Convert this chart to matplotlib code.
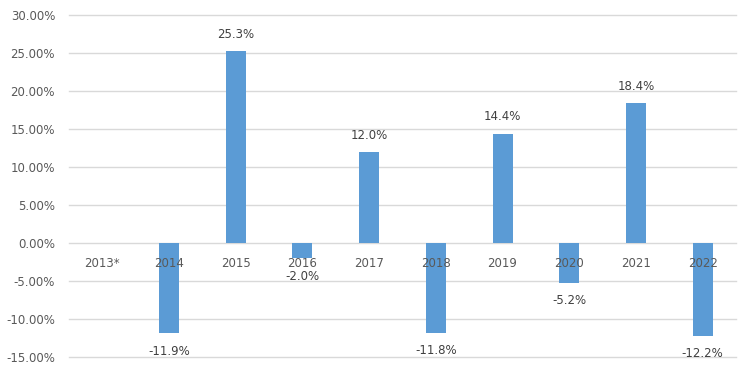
import numpy as np
import matplotlib
matplotlib.use("Agg")
import matplotlib.pyplot as plt
from matplotlib.ticker import FuncFormatter, MultipleLocator

# yearly returns, 2013* has no value
years = ["2013*", "2014", "2015", "2016", "2017", "2018", "2019", "2020", "2021", "2022"]
returns = [np.nan, -11.9, 25.3, -2.0, 12.0, -11.8, 14.4, -5.2, 18.4, -12.2]

bar_color = "#5B9BD5"
grid_color = "#D9D9D9"
tick_color = "#595959"
label_color = "#404040"

plt.rcParams["font.family"] = ["DejaVu Sans"]

fig = plt.figure(figsize=(7.52, 3.82), dpi=100)
ax = fig.add_axes([69 / 752, 1 - 357 / 382, (736 - 69) / 752, (357 - 15) / 382])

x = np.arange(len(years))
vals = np.array(returns) / 100.0
ax.bar(x, np.nan_to_num(vals), width=0.3, color=bar_color, zorder=3)

ax.set_xlim(-0.5, len(years) - 0.5)
ax.set_ylim(-0.15, 0.30)
ax.yaxis.set_major_locator(MultipleLocator(0.05))
ax.yaxis.set_major_formatter(FuncFormatter(lambda v, p: f"{v * 100:.2f}%"))
ax.grid(axis="y", color=grid_color, linewidth=1, zorder=0)
ax.set_xticks([])
for s in ax.spines.values():
    s.set_visible(False)
ax.tick_params(axis="y", length=0, pad=10, labelsize=8.5, labelcolor=tick_color)

# category labels sit just under the zero line
for xi, yr in zip(x, years):
    ax.annotate(yr, (xi, 0), xytext=(0, -14.5), textcoords="offset points",
                ha="center", va="center", fontsize=8.5, color=tick_color, zorder=4)

# data labels
for xi, v in zip(x, vals):
    if np.isnan(v):
        continue
    off = 12 if v >= 0 else -13
    ax.annotate(f"{v * 100:.1f}%", (xi, v), xytext=(0, off), textcoords="offset points",
                ha="center", va="center", fontsize=8.5, color=label_color, zorder=4)

fig.canvas.draw()
for gl in ax.get_ygridlines():
    gl.set_clip_on(False)

fig.savefig("out.png", dpi=100)
